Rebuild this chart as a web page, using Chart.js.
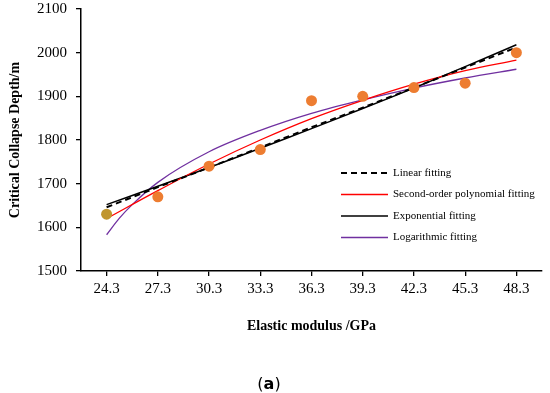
<!DOCTYPE html>
<html>
<head>
<meta charset="utf-8">
<script src="https://cdn.jsdelivr.net/npm/chart.js@4"></script>
<style>
  html, body { margin: 0; padding: 0; background: #fff; }
  #wrap { width: 550px; height: 393px; }
</style>
</head>
<body>
<div id="wrap"><canvas id="chart" width="550" height="393"></canvas></div>
<script>
const elasticModulus = [24.3, 27.3, 30.3, 33.3, 36.3, 39.3, 42.3, 45.3, 48.3];
const collapseDepth = [1630, 1670, 1740, 1778, 1890, 1900, 1920, 1930, 2000];
const linearFit = [1646, 1692, 1737, 1783, 1829, 1874, 1920, 1966, 2012];
const polyFit = [1620, 1684, 1745, 1800, 1849, 1891, 1928, 1959, 1983];
const expFit = [1652, 1694, 1737, 1781, 1826, 1872, 1919, 1968, 2018];
// log curve is steep at the start, so it was read at a couple of extra x positions
const logX = [24.3, 25.05, 25.8, 27.3, 30.3, 33.3, 36.3, 39.3, 42.3, 45.3, 48.3];
const logFit = [1583, 1621, 1652, 1703, 1773, 1822, 1861, 1892, 1919, 1942, 1962];

const serif = '"Liberation Serif", "Times New Roman", serif';
const pairs = (xs, ys) => xs.map((x, i) => ({ x: x, y: ys[i] }));

// legend drawn inside the plot, like the original
const innerLegend = {
  id: 'innerLegend',
  afterDatasetsDraw(chart) {
    const ctx = chart.ctx;
    const a = chart.chartArea;
    const x0 = a.left + 260, x1 = a.left + 307, tx = a.left + 312;
    let y = a.top + 164;
    chart.data.datasets.slice(1).forEach(ds => {
      ctx.save();
      ctx.strokeStyle = ds.borderColor;
      ctx.lineWidth = ds.borderWidth;
      ctx.setLineDash(ds.borderDash || []);
      ctx.beginPath();
      ctx.moveTo(x0, y);
      ctx.lineTo(x1, y);
      ctx.stroke();
      ctx.setLineDash([]);
      ctx.fillStyle = '#000';
      ctx.font = '11px ' + serif;
      ctx.textBaseline = 'middle';
      ctx.fillText(ds.label, tx, y);
      ctx.restore();
      y += 21.5;
    });
  },
  afterDraw(chart) {
    const ctx = chart.ctx;
    ctx.save();
    ctx.fillStyle = '#000';
    ctx.textBaseline = 'middle';
    const normal = '16px "DejaVu Sans", sans-serif';
    const bold = 'bold 16px "DejaVu Sans", sans-serif';
    ctx.font = normal;
    const w1 = ctx.measureText('(').width;
    ctx.font = bold;
    const w2 = ctx.measureText('a').width;
    const total = w1 * 2 + w2;
    let x = 269 - total / 2;
    const y = 385;
    ctx.font = normal; ctx.fillText('(', x, y); x += w1;
    ctx.font = bold; ctx.fillText('a', x, y); x += w2;
    ctx.font = normal; ctx.fillText(')', x, y);
    ctx.restore();
  }
};

new Chart(document.getElementById('chart'), {
  type: 'line',
  data: {
    datasets: [
      {
        label: 'Critical collapse depth',
        data: pairs(elasticModulus, collapseDepth),
        showLine: false,
        pointRadius: 5.5,
        pointBackgroundColor: ['#C0962E', '#ED7D31', '#ED7D31', '#ED7D31', '#ED7D31', '#ED7D31', '#ED7D31', '#ED7D31', '#ED7D31'],
        pointBorderWidth: 0,
        borderColor: '#ED7D31'
      },
      {
        label: 'Linear fitting',
        data: pairs(elasticModulus, linearFit),
        borderColor: '#000',
        borderWidth: 2,
        borderDash: [6, 4],
        pointRadius: 0
      },
      {
        label: 'Second-order polynomial fitting',
        data: pairs(elasticModulus, polyFit),
        borderColor: '#FF0000',
        borderWidth: 1.3,
        tension: 0.4,
        pointRadius: 0
      },
      {
        label: 'Exponential fitting',
        data: pairs(elasticModulus, expFit),
        borderColor: '#000',
        borderWidth: 1.5,
        tension: 0.4,
        pointRadius: 0
      },
      {
        label: 'Logarithmic fitting',
        data: pairs(logX, logFit),
        borderColor: '#7030A0',
        borderWidth: 1.3,
        cubicInterpolationMode: 'monotone',
        pointRadius: 0
      }
    ]
  },
  options: {
    responsive: false,
    animation: false,
    layout: { padding: { top: 9, right: 8, left: 0, bottom: 0 } },
    plugins: {
      legend: { display: false },
      tooltip: { enabled: false }
    },
    scales: {
      x: {
        type: 'linear',
        min: 22.8,
        max: 49.8,
        afterBuildTicks(scale) {
          scale.ticks = elasticModulus.map(v => ({ value: v }));
        },
        grid: { drawOnChartArea: false, color: '#000', tickLength: 5, lineWidth: 1.3 },
        border: { color: '#000', width: 1.5 },
        ticks: {
          color: '#000',
          font: { family: serif, size: 15 },
          padding: 4,
          maxRotation: 0,
          autoSkip: false,
          callback: v => v.toFixed(1)
        },
        title: {
          display: true,
          text: 'Elastic modulus /GPa',
          color: '#000',
          font: { family: serif, size: 14, weight: 'bold' },
          padding: { top: 4, bottom: 58 }
        },
        afterFit(scale) { scale.height = 122; }
      },
      y: {
        min: 1500,
        max: 2100,
        grid: { drawOnChartArea: false, color: '#000', tickLength: 5, lineWidth: 1.3 },
        border: { color: '#000', width: 1.5 },
        ticks: {
          stepSize: 100,
          color: '#000',
          font: { family: serif, size: 15 },
          padding: 9,
          callback: v => String(v)
        },
        title: {
          display: true,
          text: 'Critical Collapse Depth/m',
          color: '#000',
          font: { family: serif, size: 14, weight: 'bold' },
          padding: { top: 7, bottom: 4 }
        },
        afterFit(scale) {
          scale.width = 81;
          scale.paddingTop = 9;
          scale.paddingBottom = 9;
        }
      }
    }
  },
  plugins: [innerLegend]
});
</script>
</body>
</html>
